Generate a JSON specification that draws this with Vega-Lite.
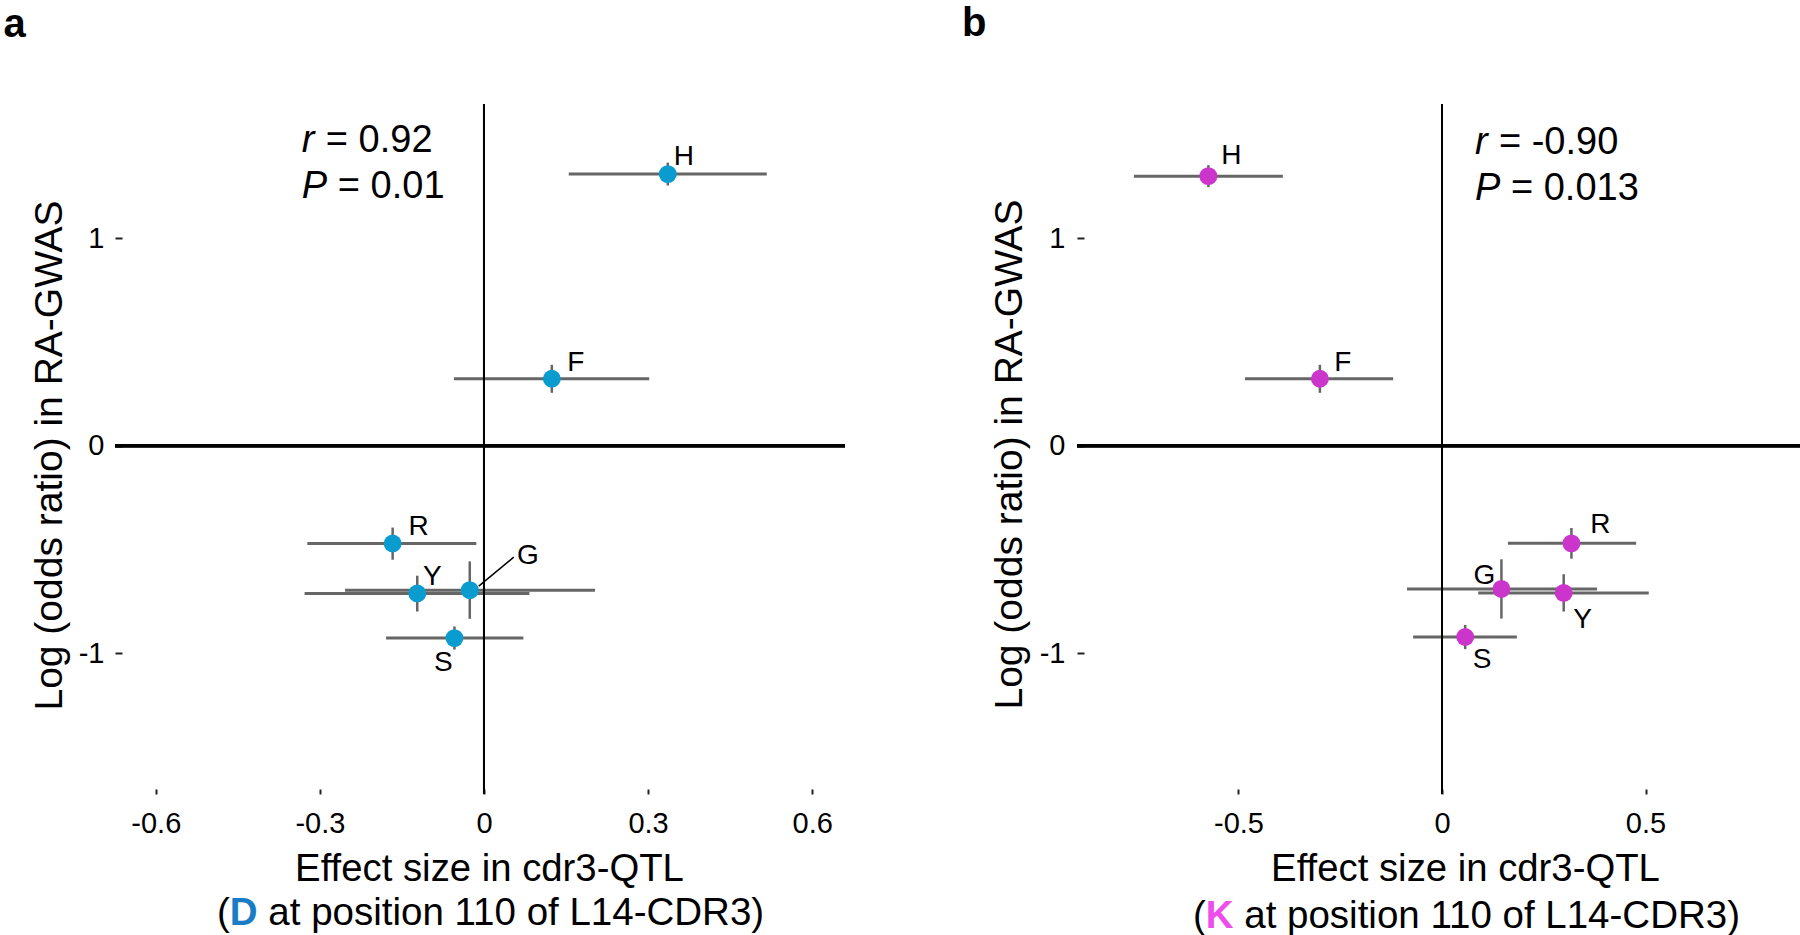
{
  "$schema": "https://vega.github.io/schema/vega-lite/v6.json",
  "background": "white",
  "padding": {"left": 3, "top": 4, "right": 0, "bottom": 0},
  "bounds": "flush",
  "spacing": 232,
  "datasets": {
    "a": [
      {"name": "H", "x": 0.336, "xlo": 0.155, "xhi": 0.517, "y": 1.31, "ylo": 1.255, "yhi": 1.365},
      {"name": "F", "x": 0.124, "xlo": -0.055, "xhi": 0.302, "y": 0.323, "ylo": 0.255, "yhi": 0.39},
      {"name": "R", "x": -0.167, "xlo": -0.323, "xhi": -0.014, "y": -0.472, "ylo": -0.55, "yhi": -0.395},
      {"name": "Y", "x": -0.122, "xlo": -0.328, "xhi": 0.083, "y": -0.713, "ylo": -0.8, "yhi": -0.627},
      {"name": "G", "x": -0.026, "xlo": -0.254, "xhi": 0.203, "y": -0.697, "ylo": -0.835, "yhi": -0.558},
      {"name": "S", "x": -0.054, "xlo": -0.179, "xhi": 0.072, "y": -0.928, "ylo": -0.983, "yhi": -0.872}
    ],
    "b": [
      {"name": "H", "x": -0.574, "xlo": -0.757, "xhi": -0.391, "y": 1.3, "ylo": 1.247, "yhi": 1.353},
      {"name": "F", "x": -0.3, "xlo": -0.484, "xhi": -0.12, "y": 0.323, "ylo": 0.255, "yhi": 0.39},
      {"name": "R", "x": 0.318, "xlo": 0.162, "xhi": 0.477, "y": -0.471, "ylo": -0.545, "yhi": -0.397},
      {"name": "G", "x": 0.146, "xlo": -0.086, "xhi": 0.381, "y": -0.691, "ylo": -0.834, "yhi": -0.548},
      {"name": "Y", "x": 0.299, "xlo": 0.089, "xhi": 0.508, "y": -0.71, "ylo": -0.8, "yhi": -0.62},
      {"name": "S", "x": 0.057, "xlo": -0.071, "xhi": 0.184, "y": -0.923, "ylo": -0.981, "yhi": -0.865}
    ]
  },
  "hconcat": [
    {
      "width": 730,
      "height": 690,
      "data": {"name": "a"},
      "title": {"text": "a", "anchor": "start", "frame": "group", "fontSize": 40, "fontWeight": "bold", "baseline": "alphabetic", "offset": 26, "dx": -111.5, "color": "black"},
      "layer": [
        {
          "mark": {"type": "rule", "color": "#666666", "strokeWidth": 3},
          "encoding": {
            "x": {"field": "xlo", "type": "quantitative", "scale": {"domain": [-0.6746, 0.66], "nice": false, "zero": false},
              "axis": {"title": "Effect size in cdr3-QTL", "values": [-0.6, -0.3, 0, 0.3, 0.6], "labelExpr": "'' + datum.value", "offset": -5, "tickSize": 5, "labelPadding": 15, "titleFontSize": 38.3, "titleX": 374, "titleY": 91, "titleAlign": "center", "titleBaseline": "alphabetic"}},
            "x2": {"field": "xhi"},
            "y": {"field": "y", "type": "quantitative", "scale": {"domain": [-1.68, 1.648], "nice": false, "zero": false},
              "axis": {"title": "Log (odds ratio) in RA-GWAS", "values": [-1, 0, 1], "labelExpr": "'' + datum.value", "offset": -7, "tickSize": 7, "labelPadding": 11, "titleFontSize": 39, "titleAngle": 270, "titleX": -61, "titleY": 351, "titleAlign": "center", "titleBaseline": "alphabetic"}}
          }
        },
        {
          "mark": {"type": "rule", "color": "#666666", "strokeWidth": 2.5},
          "encoding": {
            "x": {"field": "x", "type": "quantitative"},
            "y": {"field": "ylo", "type": "quantitative"},
            "y2": {"field": "yhi"}
          }
        },
        {"mark": {"type": "rule", "color": "black", "strokeWidth": 2}, "encoding": {"x": {"datum": 0}}},
        {"mark": {"type": "rule", "color": "black", "strokeWidth": 3}, "encoding": {"y": {"datum": 0}}},
        {
          "mark": {"type": "circle", "size": 320, "opacity": 1, "color": "#0a9bcf"},
          "encoding": {"x": {"field": "x", "type": "quantitative"}, "y": {"field": "y", "type": "quantitative"}}
        },
        {
          "transform": [{"filter": "datum.name === 'G'"}],
          "mark": {"type": "rule", "color": "black", "strokeWidth": 1.5, "xOffset": 9, "yOffset": -4, "x2Offset": 44, "y2Offset": -33},
          "encoding": {"x": {"field": "x", "type": "quantitative"}, "y": {"field": "y", "type": "quantitative"}, "x2": {"field": "x"}, "y2": {"field": "y"}}
        },
        {"transform": [{"filter": "datum.name === 'H'"}], "mark": {"type": "text", "fontSize": 28, "align": "center", "baseline": "middle", "dx": 16, "dy": -17}, "encoding": {"x": {"field": "x", "type": "quantitative"}, "y": {"field": "y", "type": "quantitative"}, "text": {"field": "name"}}},
        {"transform": [{"filter": "datum.name === 'F'"}], "mark": {"type": "text", "fontSize": 28, "align": "center", "baseline": "middle", "dx": 24, "dy": -16}, "encoding": {"x": {"field": "x", "type": "quantitative"}, "y": {"field": "y", "type": "quantitative"}, "text": {"field": "name"}}},
        {"transform": [{"filter": "datum.name === 'R'"}], "mark": {"type": "text", "fontSize": 28, "align": "center", "baseline": "middle", "dx": 26, "dy": -17}, "encoding": {"x": {"field": "x", "type": "quantitative"}, "y": {"field": "y", "type": "quantitative"}, "text": {"field": "name"}}},
        {"transform": [{"filter": "datum.name === 'Y'"}], "mark": {"type": "text", "fontSize": 28, "align": "center", "baseline": "middle", "dx": 15, "dy": -17}, "encoding": {"x": {"field": "x", "type": "quantitative"}, "y": {"field": "y", "type": "quantitative"}, "text": {"field": "name"}}},
        {"transform": [{"filter": "datum.name === 'G'"}], "mark": {"type": "text", "fontSize": 28, "align": "center", "baseline": "middle", "dx": 58, "dy": -34}, "encoding": {"x": {"field": "x", "type": "quantitative"}, "y": {"field": "y", "type": "quantitative"}, "text": {"field": "name"}}},
        {"transform": [{"filter": "datum.name === 'S'"}], "mark": {"type": "text", "fontSize": 28, "align": "center", "baseline": "middle", "dx": -11, "dy": 25}, "encoding": {"x": {"field": "x", "type": "quantitative"}, "y": {"field": "y", "type": "quantitative"}, "text": {"field": "name"}}},
        {"data": {"values": [{}]}, "mark": {"type": "text", "text": "r", "fontSize": 38, "fontStyle": "italic", "align": "left", "baseline": "alphabetic"}, "encoding": {"x": {"datum": -0.333}, "y": {"datum": 1.417}}},
        {"data": {"values": [{}]}, "mark": {"type": "text", "text": "= 0.92", "fontSize": 38, "align": "left", "baseline": "alphabetic", "dx": 24}, "encoding": {"x": {"datum": -0.333}, "y": {"datum": 1.417}}},
        {"data": {"values": [{}]}, "mark": {"type": "text", "text": "P", "fontSize": 38, "fontStyle": "italic", "align": "left", "baseline": "alphabetic"}, "encoding": {"x": {"datum": -0.333}, "y": {"datum": 1.195}}},
        {"data": {"values": [{}]}, "mark": {"type": "text", "text": "= 0.01", "fontSize": 38, "align": "left", "baseline": "alphabetic", "dx": 36}, "encoding": {"x": {"datum": -0.333}, "y": {"datum": 1.195}}},
        {"data": {"values": [{}]}, "mark": {"type": "text", "text": "(", "fontSize": 38.5, "align": "left", "baseline": "alphabetic"}, "encoding": {"x": {"datum": -0.488}, "y": {"datum": -2.313}}},
        {"data": {"values": [{}]}, "mark": {"type": "text", "text": "D", "fontSize": 38.5, "fontWeight": "bold", "color": "#1b7cc6", "align": "left", "baseline": "alphabetic", "dx": 12.8}, "encoding": {"x": {"datum": -0.488}, "y": {"datum": -2.313}}},
        {"data": {"values": [{}]}, "mark": {"type": "text", "text": "at position 110 of L14-CDR3)", "fontSize": 38.5, "align": "left", "baseline": "alphabetic", "dx": 51.3}, "encoding": {"x": {"datum": -0.488}, "y": {"datum": -2.313}}}
      ]
    },
    {
      "width": 723,
      "height": 690,
      "data": {"name": "b"},
      "title": {"text": "b", "anchor": "start", "frame": "group", "fontSize": 40, "fontWeight": "bold", "baseline": "alphabetic", "offset": 27, "dx": -115, "color": "black"},
      "layer": [
        {
          "mark": {"type": "rule", "color": "#666666", "strokeWidth": 3},
          "encoding": {
            "x": {"field": "xlo", "type": "quantitative", "scale": {"domain": [-0.8968, 0.8796], "nice": false, "zero": false},
              "axis": {"title": "Effect size in cdr3-QTL", "values": [-0.5, 0, 0.5], "labelExpr": "'' + datum.value", "offset": -5, "tickSize": 5, "labelPadding": 15, "titleFontSize": 38.3, "titleX": 388, "titleY": 91, "titleAlign": "center", "titleBaseline": "alphabetic"}},
            "x2": {"field": "xhi"},
            "y": {"field": "y", "type": "quantitative", "scale": {"domain": [-1.68, 1.648], "nice": false, "zero": false},
              "axis": {"title": "Log (odds ratio) in RA-GWAS", "values": [-1, 0, 1], "labelExpr": "'' + datum.value", "offset": -7, "tickSize": 7, "labelPadding": 12, "titleFontSize": 39, "titleAngle": 270, "titleX": -63, "titleY": 350, "titleAlign": "center", "titleBaseline": "alphabetic"}}
          }
        },
        {
          "mark": {"type": "rule", "color": "#666666", "strokeWidth": 2.5},
          "encoding": {
            "x": {"field": "x", "type": "quantitative"},
            "y": {"field": "ylo", "type": "quantitative"},
            "y2": {"field": "yhi"}
          }
        },
        {"mark": {"type": "rule", "color": "black", "strokeWidth": 2}, "encoding": {"x": {"datum": 0}}},
        {"mark": {"type": "rule", "color": "black", "strokeWidth": 3}, "encoding": {"y": {"datum": 0}}},
        {
          "mark": {"type": "circle", "size": 320, "opacity": 1, "color": "#cb35cb"},
          "encoding": {"x": {"field": "x", "type": "quantitative"}, "y": {"field": "y", "type": "quantitative"}}
        },
        {"transform": [{"filter": "datum.name === 'H'"}], "mark": {"type": "text", "fontSize": 28, "align": "center", "baseline": "middle", "dx": 23, "dy": -20}, "encoding": {"x": {"field": "x", "type": "quantitative"}, "y": {"field": "y", "type": "quantitative"}, "text": {"field": "name"}}},
        {"transform": [{"filter": "datum.name === 'F'"}], "mark": {"type": "text", "fontSize": 28, "align": "center", "baseline": "middle", "dx": 23, "dy": -16}, "encoding": {"x": {"field": "x", "type": "quantitative"}, "y": {"field": "y", "type": "quantitative"}, "text": {"field": "name"}}},
        {"transform": [{"filter": "datum.name === 'R'"}], "mark": {"type": "text", "fontSize": 28, "align": "center", "baseline": "middle", "dx": 29, "dy": -18}, "encoding": {"x": {"field": "x", "type": "quantitative"}, "y": {"field": "y", "type": "quantitative"}, "text": {"field": "name"}}},
        {"transform": [{"filter": "datum.name === 'G'"}], "mark": {"type": "text", "fontSize": 28, "align": "center", "baseline": "middle", "dx": -17, "dy": -13}, "encoding": {"x": {"field": "x", "type": "quantitative"}, "y": {"field": "y", "type": "quantitative"}, "text": {"field": "name"}}},
        {"transform": [{"filter": "datum.name === 'Y'"}], "mark": {"type": "text", "fontSize": 28, "align": "center", "baseline": "middle", "dx": 19, "dy": 27}, "encoding": {"x": {"field": "x", "type": "quantitative"}, "y": {"field": "y", "type": "quantitative"}, "text": {"field": "name"}}},
        {"transform": [{"filter": "datum.name === 'S'"}], "mark": {"type": "text", "fontSize": 28, "align": "center", "baseline": "middle", "dx": 17, "dy": 23}, "encoding": {"x": {"field": "x", "type": "quantitative"}, "y": {"field": "y", "type": "quantitative"}, "text": {"field": "name"}}},
        {"data": {"values": [{}]}, "mark": {"type": "text", "text": "r", "fontSize": 38, "fontStyle": "italic", "align": "left", "baseline": "alphabetic"}, "encoding": {"x": {"datum": 0.081}, "y": {"datum": 1.406}}},
        {"data": {"values": [{}]}, "mark": {"type": "text", "text": "= -0.90", "fontSize": 38, "align": "left", "baseline": "alphabetic", "dx": 24}, "encoding": {"x": {"datum": 0.081}, "y": {"datum": 1.406}}},
        {"data": {"values": [{}]}, "mark": {"type": "text", "text": "P", "fontSize": 38, "fontStyle": "italic", "align": "left", "baseline": "alphabetic"}, "encoding": {"x": {"datum": 0.081}, "y": {"datum": 1.184}}},
        {"data": {"values": [{}]}, "mark": {"type": "text", "text": "= 0.013", "fontSize": 38, "align": "left", "baseline": "alphabetic", "dx": 36}, "encoding": {"x": {"datum": 0.081}, "y": {"datum": 1.184}}},
        {"data": {"values": [{}]}, "mark": {"type": "text", "text": "(", "fontSize": 38.5, "align": "left", "baseline": "alphabetic"}, "encoding": {"x": {"datum": -0.612}, "y": {"datum": -2.324}}},
        {"data": {"values": [{}]}, "mark": {"type": "text", "text": "K", "fontSize": 38.5, "fontWeight": "bold", "color": "#ee4dee", "align": "left", "baseline": "alphabetic", "dx": 12.8}, "encoding": {"x": {"datum": -0.612}, "y": {"datum": -2.324}}},
        {"data": {"values": [{}]}, "mark": {"type": "text", "text": "at position 110 of L14-CDR3)", "fontSize": 38.5, "align": "left", "baseline": "alphabetic", "dx": 51.3}, "encoding": {"x": {"datum": -0.612}, "y": {"datum": -2.324}}}
      ]
    }
  ],
  "config": {
    "view": {"stroke": null},
    "font": "Liberation Sans",
    "axis": {"grid": false, "domain": false, "labelFontSize": 29, "labelColor": "black", "labelFont": "Liberation Sans", "tickColor": "#222222", "tickWidth": 2, "titleColor": "black", "titleFont": "Liberation Sans", "titleFontWeight": "normal", "labelFlush": false, "labelOverlap": false},
    "text": {"font": "Liberation Sans", "color": "black"},
    "title": {"font": "Liberation Sans", "color": "black"}
  }
}
